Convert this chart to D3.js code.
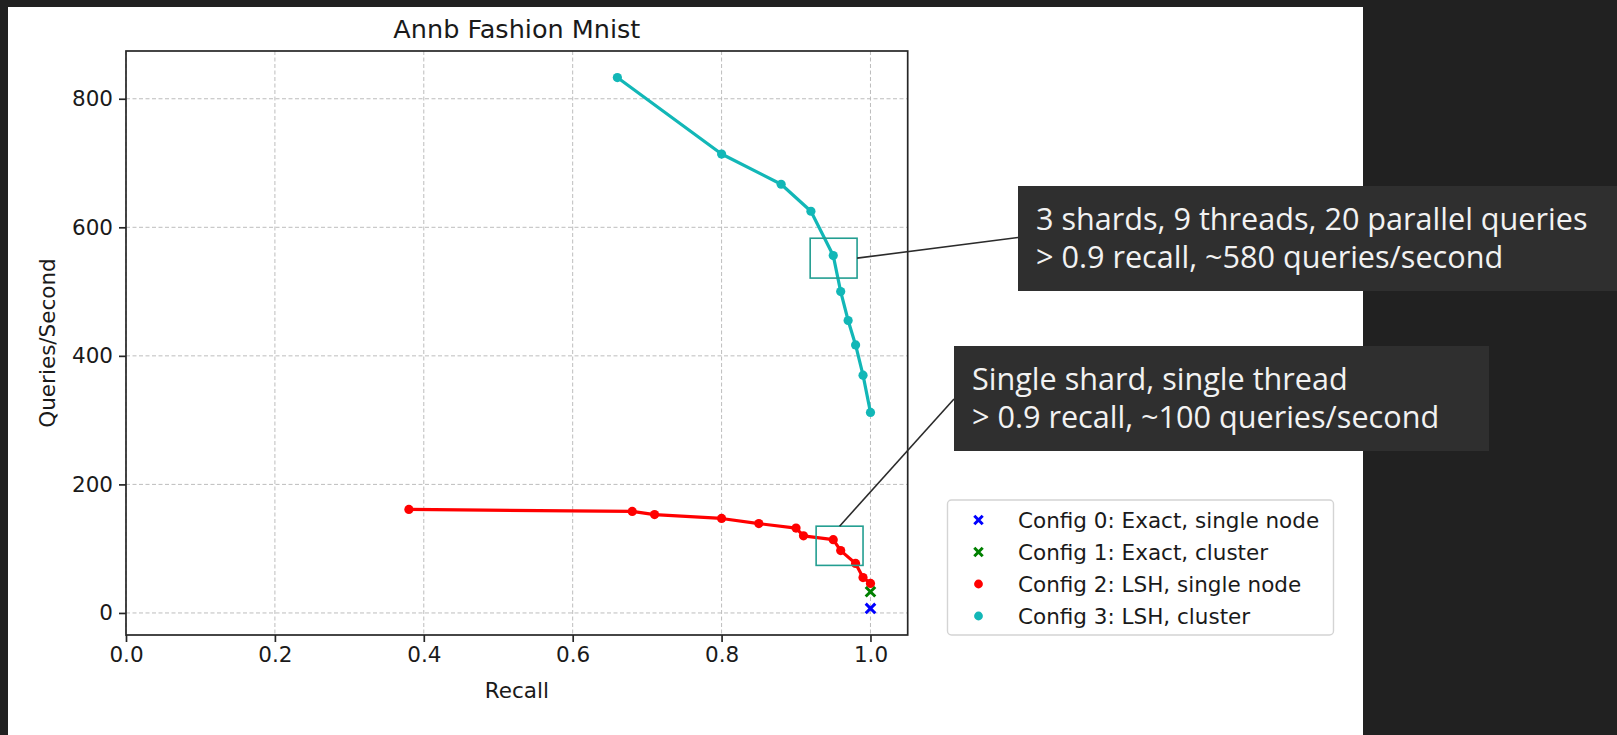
<!DOCTYPE html>
<html>
<head>
<meta charset="utf-8">
<script src="https://cdn.jsdelivr.net/npm/d3@7"></script>
<style>
  html, body { margin: 0; padding: 0; background: #212121; }
  svg { display: block; }
</style>
</head>
<body>
<svg id="chart" width="1617" height="735"></svg>
<script>
// ---- data ----
const titleText = "Annb Fashion Mnist";
const xLabelText = "Recall";
const yLabelText = "Queries/Second";

const xTicks = [0.0, 0.2, 0.4, 0.6, 0.8, 1.0];
const yTicks = [0, 200, 400, 600, 800];

// Config 0: exact search on a single node
const exactSingleRecall = [1.0];
const exactSingleQps = [7];
// Config 1: exact search on the cluster
const exactClusterRecall = [1.0];
const exactClusterQps = [33];
// Config 2: LSH on a single node
const lshSingleRecall = [0.38, 0.68, 0.71, 0.80, 0.85, 0.90, 0.91, 0.95, 0.96, 0.98, 0.99, 1.0];
const lshSingleQps = [161, 158, 153, 147, 139, 132, 120, 114, 97, 77, 55, 46];
// Config 3: LSH on the cluster
const lshClusterRecall = [0.66, 0.80, 0.88, 0.92, 0.95, 0.96, 0.97, 0.98, 0.99, 1.0];
const lshClusterQps = [833, 714, 667, 625, 556, 500, 455, 417, 370, 312];

const legendLabels = [
  "Config 0: Exact, single node",
  "Config 1: Exact, cluster",
  "Config 2: LSH, single node",
  "Config 3: LSH, cluster"
];

const calloutCluster = ["3 shards, 9 threads, 20 parallel queries", "> 0.9 recall, ~580 queries/second"];
const calloutSingle = ["Single shard, single thread", "> 0.9 recall, ~100 queries/second"];

// highlighted regions, in data units: [recall0, recall1, qps0, qps1]
const highlightCluster = [0.919, 0.982, 521, 583];
const highlightSingle = [0.927, 0.990, 74, 135];

// ---- layout ----
const svg = d3.select("#chart");
const plot = { left: 126, right: 907.7, top: 51, bottom: 635 };
const tickFont = "DejaVu Sans, Verdana, sans-serif";
const ink = "#1a1a1a";

const colors = { exactSingle: "#0000ff", exactCluster: "#008000", lshSingle: "#ff0000", lshCluster: "#12b7b7" };

// background and figure panel
svg.append("rect").attr("width", 1617).attr("height", 735).attr("fill", "#212121");
svg.append("rect").attr("x", 8).attr("y", 7).attr("width", 1355).attr("height", 728).attr("fill", "#ffffff");

// scales: y uses 5% padding around the data extent
const allQps = [].concat(exactSingleQps, exactClusterQps, lshSingleQps, lshClusterQps);
const qMin = d3.min(allQps), qMax = d3.max(allQps);
const pad = (qMax - qMin) * 0.05;
const x = d3.scaleLinear().domain([0, 1.05]).range([plot.left, plot.right]);
const y = d3.scaleLinear().domain([qMin - pad, qMax + pad]).range([plot.bottom, plot.top]);

// grid
const grid = svg.append("g").attr("stroke", "#bdbdbd").attr("stroke-width", 1)
  .attr("stroke-dasharray", "4,2.5").attr("fill", "none");
xTicks.forEach(t => grid.append("line")
  .attr("x1", x(t)).attr("x2", x(t)).attr("y1", plot.top).attr("y2", plot.bottom));
yTicks.forEach(t => grid.append("line")
  .attr("x1", plot.left).attr("x2", plot.right).attr("y1", y(t)).attr("y2", y(t)));

// axes
const xAxis = d3.axisBottom(x).tickValues(xTicks).tickFormat(d3.format(".1f")).tickSize(7).tickPadding(5);
const yAxis = d3.axisLeft(y).tickValues(yTicks).tickFormat(d3.format("d")).tickSize(7).tickPadding(6);

const gx = svg.append("g").attr("transform", `translate(0,${plot.bottom})`).call(xAxis);
const gy = svg.append("g").attr("transform", `translate(${plot.left},0)`).call(yAxis);
[gx, gy].forEach(g => {
  g.select(".domain").remove();
  g.selectAll(".tick line").attr("stroke", "#262626").attr("stroke-width", 1.7);
  g.selectAll(".tick text").attr("fill", ink).attr("font-family", tickFont).attr("font-size", 21.5);
});
gx.selectAll(".tick text").attr("dy", "0.71em");

// spines
svg.append("rect")
  .attr("x", plot.left).attr("y", plot.top)
  .attr("width", plot.right - plot.left).attr("height", plot.bottom - plot.top)
  .attr("fill", "none").attr("stroke", "#262626").attr("stroke-width", 1.7);

// title and axis labels
svg.append("text").text(titleText)
  .attr("x", (plot.left + plot.right) / 2).attr("y", 38.3)
  .attr("text-anchor", "middle").attr("font-family", tickFont).attr("font-size", 25.5).attr("fill", ink);
svg.append("text").text(xLabelText)
  .attr("x", (plot.left + plot.right) / 2).attr("y", 697.5)
  .attr("text-anchor", "middle").attr("font-family", tickFont).attr("font-size", 21.5).attr("fill", ink);
svg.append("text").text(yLabelText)
  .attr("transform", `translate(55,${(plot.top + plot.bottom) / 2}) rotate(-90)`)
  .attr("text-anchor", "middle").attr("font-family", tickFont).attr("font-size", 21.5).attr("fill", ink);

// series
const line = d3.line().x(d => x(d[0])).y(d => y(d[1]));
function drawSeries(recall, qps, color) {
  const pts = recall.map((r, i) => [r, qps[i]]);
  svg.append("path").datum(pts).attr("d", line)
    .attr("fill", "none").attr("stroke", color).attr("stroke-width", 3.2)
    .attr("stroke-linejoin", "round");
  svg.append("g").selectAll("circle").data(pts).join("circle")
    .attr("cx", d => x(d[0])).attr("cy", d => y(d[1])).attr("r", 4.6).attr("fill", color);
}
drawSeries(lshClusterRecall, lshClusterQps, colors.lshCluster);
drawSeries(lshSingleRecall, lshSingleQps, colors.lshSingle);

function crossAt(g, cx, cy, half, color) {
  g.append("path")
    .attr("d", `M${cx - half},${cy - half}L${cx + half},${cy + half}M${cx - half},${cy + half}L${cx + half},${cy - half}`)
    .attr("stroke", color).attr("stroke-width", 3).attr("fill", "none");
}
const marks = svg.append("g");
exactClusterRecall.forEach((r, i) => crossAt(marks, x(r), y(exactClusterQps[i]), 4.8, colors.exactCluster));
exactSingleRecall.forEach((r, i) => crossAt(marks, x(r), y(exactSingleQps[i]), 4.8, colors.exactSingle));

// highlight boxes and leader lines
const teal = "#239e91";
function highlight(h) {
  const x0 = x(h[0]), x1 = x(h[1]), y0 = y(h[3]), y1 = y(h[2]);
  svg.append("rect").attr("x", x0).attr("y", y0).attr("width", x1 - x0).attr("height", y1 - y0)
    .attr("fill", "none").attr("stroke", teal).attr("stroke-width", 1.6);
  return { x0, x1, y0, y1 };
}
const hc = highlight(highlightCluster);
const hs = highlight(highlightSingle);

// callouts
const calloutFont = "Open Sans, Noto Sans, sans-serif";
function callout(bx, by, bw, bh, lines) {
  const g = svg.append("g");
  g.append("rect").attr("x", bx).attr("y", by).attr("width", bw).attr("height", bh).attr("fill", "#2f2f2f");
  lines.forEach((t, i) => g.append("text").text(t)
    .attr("x", bx + 18).attr("y", by + 44 + i * 38)
    .attr("font-family", calloutFont).attr("font-size", 30.6).attr("fill", "#f2f2f2"));
}
svg.append("line").attr("x1", hc.x1).attr("y1", (hc.y0 + hc.y1) / 2).attr("x2", 1018).attr("y2", 237.5)
  .attr("stroke", "#2b2b2b").attr("stroke-width", 1.6);
svg.append("line").attr("x1", (hs.x0 + hs.x1) / 2).attr("y1", hs.y0).attr("x2", 954).attr("y2", 399)
  .attr("stroke", "#2b2b2b").attr("stroke-width", 1.6);
callout(1018, 186, 620, 105, calloutCluster);
callout(954, 346, 535, 105, calloutSingle);

// legend
const legend = svg.append("g");
legend.append("rect").attr("x", 947.5).attr("y", 500).attr("width", 386).attr("height", 135)
  .attr("rx", 4).attr("fill", "#ffffff").attr("stroke", "#d4d4d4").attr("stroke-width", 1.4);
const legendColors = [colors.exactSingle, colors.exactCluster, colors.lshSingle, colors.lshCluster];
const legendKinds = ["x", "x", "o", "o"];
legendLabels.forEach((label, i) => {
  const ly = 520 + i * 32;
  if (legendKinds[i] === "x") crossAt(legend, 978.5, ly, 4.2, legendColors[i]);
  else legend.append("circle").attr("cx", 978.5).attr("cy", ly).attr("r", 4.4).attr("fill", legendColors[i]);
  legend.append("text").text(label).attr("x", 1018).attr("y", ly)
    .attr("dy", "0.36em").attr("font-family", tickFont).attr("font-size", 21.5).attr("fill", ink);
});
</script>
</body>
</html>
